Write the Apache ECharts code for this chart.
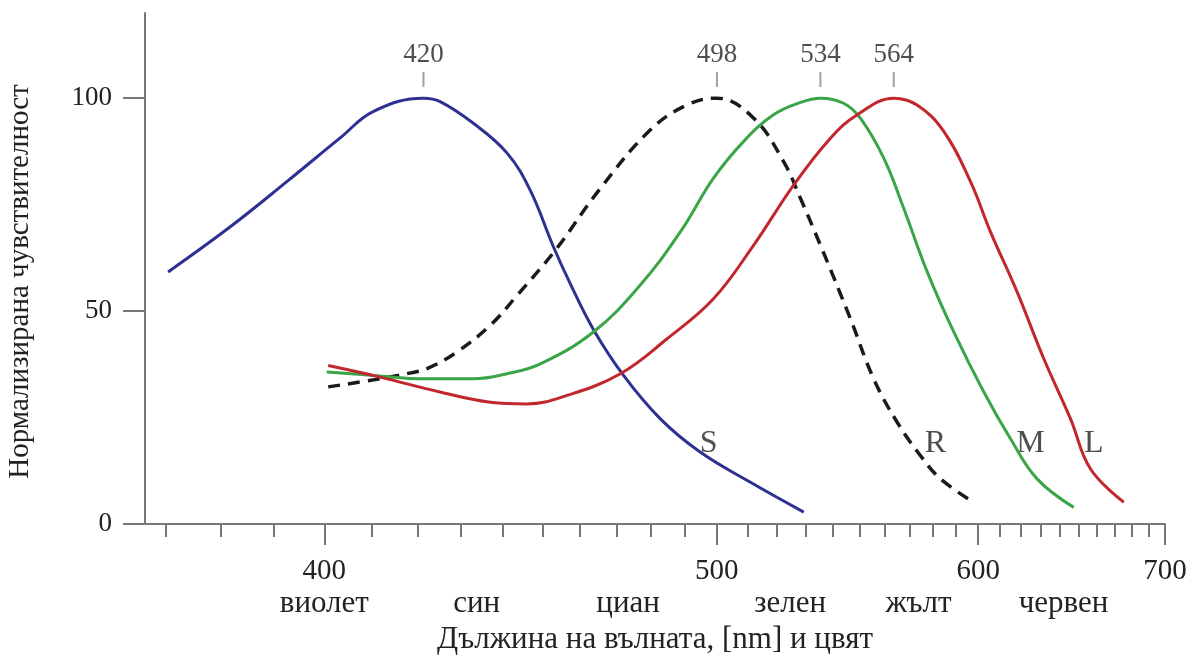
<!DOCTYPE html>
<html>
<head>
<meta charset="utf-8">
<title>Cone sensitivity</title>
<script src="https://cdn.jsdelivr.net/npm/echarts@6/dist/echarts.min.js"></script>
<style>
  html, body { margin: 0; padding: 0; background: #fff; }
  #main { width: 1195px; height: 655px; }
</style>
</head>
<body>
<div id="main"></div>
<script>
// x axis is linear in 1/wavelength, data kept in nm
const minorTicksNm = [370, 380, 390, 400, 410, 420, 430, 440, 450, 460, 470, 480, 490, 500, 510, 520, 530, 540, 550, 560, 570, 580, 590, 600, 610, 620, 630, 640, 650, 660, 670, 680, 690, 700];
const majorTicksNm = [400, 500, 600, 700];
const colorNames = ['виолет', 'син', 'циан', 'зелен', 'жълт', 'червен'];
const colorNamePos = [400, 433.7, 473.3, 524.6, 573.8, 641.9];
const yTicks = [0, 50, 100];

// S cone (blue)
const sNm = [370.5, 381.7, 392.5, 403.2, 410.3, 421.3, 425.1, 432.9, 441.1, 446.9, 452.9, 457.3, 463.6, 472.0, 482.7, 494.8, 511.0, 529.4];
const sVal = [59.2, 69.8, 80.4, 90.6, 96.9, 100, 99.2, 94.1, 87.1, 78.4, 65.1, 56.5, 45.7, 34.9, 24.7, 16.9, 9.8, 2.8];
// rods (dashed)
const rNm = [400.8, 411.7, 417.6, 422.1, 429.0, 437.0, 443.6, 453.4, 465.5, 479.7, 490.7, 500.1, 512.1, 522.3, 528.2, 535.4, 546.6, 555.6, 565.0, 574.6, 583.2, 598.0];
const rVal = [32.2, 34.1, 35.3, 36.5, 40.4, 46.7, 53.7, 64.3, 78.8, 92.5, 98.4, 100, 95.3, 85.1, 76.5, 65.5, 48.2, 34.1, 23.9, 16.1, 10.6, 5.1];
// M cone (green)
const mNm = [400.5, 410.3, 421.3, 432.9, 441.1, 449.5, 463.6, 476.8, 488.7, 499.0, 508.7, 518.8, 528.2, 535.4, 544.0, 550.4, 559.6, 567.7, 577.5, 589.0, 602.6, 615.2, 628.3, 647.3];
const mVal = [35.7, 34.9, 34.1, 34.1, 35.3, 37.6, 45.1, 56.1, 68.6, 81.2, 89.8, 96.1, 99.0, 100, 98.8, 95.3, 85.9, 74.1, 59.2, 45.1, 31.0, 20.0, 10.6, 3.9];
// L cone (red)
const lNm = [400.8, 411.7, 425.1, 437.0, 446.1, 456.5, 471.1, 484.7, 499.0, 512.1, 525.8, 539.1, 549.2, 563.6, 573.2, 584.6, 596.5, 605.7, 618.4, 631.7, 645.6, 656.4, 675.2];
const lVal = [37.2, 34.5, 31.0, 28.6, 28.2, 30.2, 35.3, 43.5, 52.9, 65.5, 79.6, 90.6, 96.1, 100, 98.4, 92.2, 80.4, 68.6, 54.5, 38.8, 24.7, 12.9, 5.1];

const peakLabels = ['420', '498', '534', '564'];
const peakPos = [421.3, 500.1, 535.4, 563.6];

const curveNames = ['S', 'R', 'M', 'L'];
const curveNamePos = [497.5, 581.0, 625.0, 658.2];
const curveNameY = 18.8;

const toU = nm => -1000 / nm;
const toNm = u => Math.round(-1000 / u);
const pairs = (xs, ys) => xs.map((x, i) => [toU(x), ys[i]]);

const serif = 'Liberation Serif';
const textColor = '#222';
const axisColor = '#777';
const xMin = toU(366.5);
const xMax = toU(700);

function baseX(extra) {
    return Object.assign({
        type: 'value',
        position: 'bottom',
        min: xMin,
        max: xMax,
        splitLine: { show: false },
        axisLine: { show: false },
        axisTick: { show: false },
        axisLabel: { show: false }
    }, extra);
}

const option = {
    backgroundColor: '#fff',
    animation: false,
    grid: { left: 145, right: 30, top: 13, bottom: 131, outerBoundsMode: 'none', containLabel: false },
    xAxis: [
        baseX({
            axisLine: { show: true, lineStyle: { color: axisColor, width: 2 } },
            axisTick: {
                show: true, length: 13,
                customValues: minorTicksNm.map(toU),
                lineStyle: { color: axisColor, width: 2 }
            }
        }),
        baseX({
            axisTick: {
                show: true, length: 21,
                customValues: majorTicksNm.map(toU),
                lineStyle: { color: axisColor, width: 2 }
            },
            axisLabel: {
                show: true, margin: 33,
                customValues: majorTicksNm.map(toU),
                formatter: v => String(toNm(v)),
                fontFamily: serif, fontSize: 29, color: textColor
            }
        }),
        baseX({
            axisLabel: {
                show: true, margin: 64,
                customValues: colorNamePos.map(toU),
                formatter: v => {
                    const i = colorNamePos.findIndex(p => Math.abs(toU(p) - v) < 1e-9);
                    return i >= 0 ? colorNames[i] : '';
                },
                fontFamily: serif, fontSize: 31, color: textColor
            },
            name: 'Дължина на вълната, [nm] и цвят',
            nameLocation: 'middle',
            nameGap: 100,
            nameTextStyle: { fontFamily: serif, fontSize: 31, color: textColor }
        })
    ],
    yAxis: {
        type: 'value',
        min: 0,
        max: 120,
        splitLine: { show: false },
        axisLine: { show: true, lineStyle: { color: axisColor, width: 2 } },
        axisTick: {
            show: true, length: 22,
            customValues: yTicks,
            lineStyle: { color: axisColor, width: 2 }
        },
        axisLabel: {
            margin: 33,
            customValues: yTicks,
            fontFamily: serif, fontSize: 27, color: textColor
        },
        name: 'Нормализирана чувствителност',
        nameLocation: 'middle',
        nameGap: 110,
        nameTextStyle: { fontFamily: serif, fontSize: 29, color: textColor, padding: [0, 26, 0, 0] }
    },
    series: [
        {
            name: 'S', type: 'line', smooth: 0.4, symbol: 'none',
            data: pairs(sNm, sVal),
            lineStyle: { color: '#2e3192', width: 3 }
        },
        {
            name: 'R', type: 'line', smooth: 0.4, symbol: 'none',
            data: pairs(rNm, rVal),
            lineStyle: { color: '#1a1a1a', width: 3.5, type: [12, 8] }
        },
        {
            name: 'M', type: 'line', smooth: 0.4, symbol: 'none',
            data: pairs(mNm, mVal),
            lineStyle: { color: '#3aa547', width: 3 }
        },
        {
            name: 'L', type: 'line', smooth: 0.4, symbol: 'none',
            data: pairs(lNm, lVal),
            lineStyle: { color: '#c1272d', width: 3 }
        },
        {
            // peak markers
            type: 'scatter', symbol: 'rect', symbolSize: [2, 15],
            itemStyle: { color: '#888' },
            data: peakPos.map((p, i) => ({ value: [toU(p), 104.4], name: peakLabels[i] })),
            label: {
                show: true, position: 'top', distance: 4,
                formatter: p => p.name,
                fontFamily: serif, fontSize: 27, color: textColor
            }
        },
        {
            // curve names
            type: 'scatter', symbolSize: 0,
            data: curveNamePos.map((p, i) => ({ value: [toU(p), curveNameY], name: curveNames[i] })),
            label: {
                show: true, position: 'inside',
                formatter: p => p.name,
                fontFamily: serif, fontSize: 32,
                color: p => ['#2e3192', '#333', '#3a9a44', '#b8283a'][p.dataIndex]
            }
        }
    ]
};

const chart = echarts.init(document.getElementById('main'));
chart.setOption(option);
</script>
</body>
</html>
